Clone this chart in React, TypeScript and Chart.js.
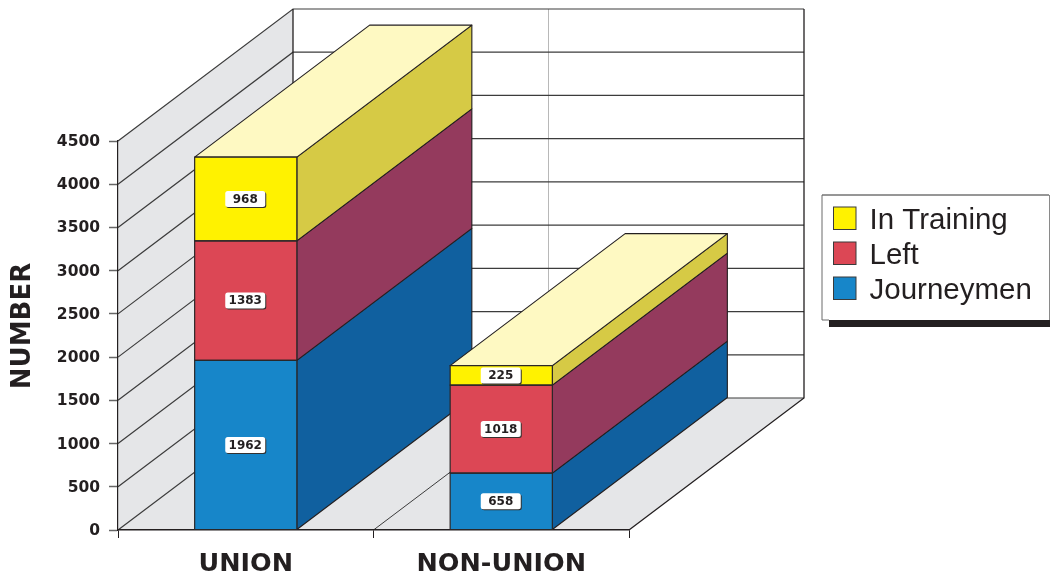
import React, { useEffect, useRef } from "react";
import { Chart, registerables } from "chart.js";

Chart.register(...registerables);

const categories = ["UNION", "NON-UNION"];
const journeymen = [1962, 658];
const left = [1383, 1018];
const inTraining = [968, 225];
const seriesLabels = ["Journeymen", "Left", "In Training"];
const axisTitle = "NUMBER";

const FRONT = ["#1786c9", "#dc4755", "#fff200"];
const SIDE = ["#10609f", "#943a5d", "#d6ca45"];
const TOP = "#fef9c2";
const INK = "#231f20";
const WALL = "#e5e6e8";
const GRID = "#3c3c3c";
const DEPTH_X = 175;
const DEPTH_Y = -132;
const AXIS_FONT = "'DejaVu Sans'";

function poly(ctx: CanvasRenderingContext2D, pts: number[][], fill: string | null, stroke: string | null, lw = 1.1) {
  ctx.beginPath();
  pts.forEach(([x, y], i) => (i ? ctx.lineTo(x, y) : ctx.moveTo(x, y)));
  ctx.closePath();
  if (fill) {
    ctx.fillStyle = fill;
    ctx.fill();
  }
  if (stroke) {
    ctx.strokeStyle = stroke;
    ctx.lineWidth = lw;
    ctx.stroke();
  }
}

function seg(ctx: CanvasRenderingContext2D, pts: number[][], color: string, lw = 1) {
  ctx.beginPath();
  pts.forEach(([x, y], i) => (i ? ctx.lineTo(x, y) : ctx.moveTo(x, y)));
  ctx.strokeStyle = color;
  ctx.lineWidth = lw;
  ctx.stroke();
}

// Left wall, back wall and floor of the 3D box, placed from the axis scales.
const roomPlugin = {
  id: "room",
  beforeDraw(chart: any) {
    const { ctx, scales } = chart;
    const y = scales.y;
    const x = scales.x;
    const l = x.left;
    const r = x.right;
    const b = y.getPixelForValue(0);
    const t = y.getPixelForValue(4500);
    ctx.save();
    poly(ctx, [[l, b], [l, t], [l + DEPTH_X, t + DEPTH_Y], [l + DEPTH_X, b + DEPTH_Y]], WALL, null);
    poly(ctx, [[l, b], [l + DEPTH_X, b + DEPTH_Y], [r + DEPTH_X, b + DEPTH_Y], [r, b]], WALL, null);

    // category divider running over the floor and up the back wall
    const mid = (l + r) / 2;
    seg(ctx, [[mid + DEPTH_X, b + DEPTH_Y], [mid + DEPTH_X, t + DEPTH_Y]], "#b8b8b8");
    seg(ctx, [[mid, b], [mid + DEPTH_X, b + DEPTH_Y]], GRID);

    y.ticks.forEach((tick: any) => {
      const py = y.getPixelForValue(tick.value);
      seg(ctx, [[l, py], [l + DEPTH_X, py + DEPTH_Y], [r + DEPTH_X, py + DEPTH_Y]], GRID, 1.2);
    });
    seg(ctx, [[l + DEPTH_X, t + DEPTH_Y], [l + DEPTH_X, b + DEPTH_Y]], INK, 1.3);
    seg(ctx, [[r + DEPTH_X, t + DEPTH_Y], [r + DEPTH_X, b + DEPTH_Y], [r, b]], INK, 1.3);

    // rotated axis title, centred a little above the middle of the axis
    ctx.translate(23, 326);
    ctx.rotate(-Math.PI / 2);
    ctx.fillStyle = INK;
    ctx.font = `bold 26px ${AXIS_FONT}`;
    ctx.textAlign = "center";
    ctx.textBaseline = "middle";
    ctx.fillText(axisTitle, 0, 0);
    ctx.restore();
  },
  // Extruded side and top faces of each stack, nearest category painted last.
  beforeDatasetsDraw(chart: any) {
    const { ctx, data } = chart;
    ctx.save();
    ctx.lineJoin = "round";
    categories.forEach((_, c) => {
      data.datasets.forEach((_d: any, s: number) => {
        const el = chart.getDatasetMeta(s).data[c];
        const xr = el.x + el.width / 2;
        poly(
          ctx,
          [[xr, el.y], [xr, el.base], [xr + DEPTH_X, el.base + DEPTH_Y], [xr + DEPTH_X, el.y + DEPTH_Y]],
          SIDE[s],
          INK,
        );
      });
      const top = chart.getDatasetMeta(data.datasets.length - 1).data[c];
      const xl = top.x - top.width / 2;
      const xr = top.x + top.width / 2;
      poly(
        ctx,
        [[xl, top.y], [xr, top.y], [xr + DEPTH_X, top.y + DEPTH_Y], [xl + DEPTH_X, top.y + DEPTH_Y]],
        TOP,
        INK,
      );
    });
    ctx.restore();
  },
  // Front outlines, white value tags and the framed key on the right.
  afterDatasetsDraw(chart: any) {
    const { ctx, data } = chart;
    ctx.save();
    data.datasets.forEach((ds: any, s: number) => {
      chart.getDatasetMeta(s).data.forEach((el: any) => {
        const xl = el.x - el.width / 2;
        poly(ctx, [[xl, el.y], [xl + el.width, el.y], [xl + el.width, el.base], [xl, el.base]], null, "#2a2728", 1.2);
      });
    });
    data.datasets.forEach((ds: any, s: number) => {
      chart.getDatasetMeta(s).data.forEach((el: any, c: number) => {
        const cx = el.x - 0.5;
        const cy = (el.y + el.base) / 2;
        const w = 40;
        const h = 16;
        ctx.beginPath();
        ctx.roundRect(cx - w / 2 + 1, cy - h / 2 + 1, w, h, 2.5);
        ctx.fillStyle = "#33302f";
        ctx.fill();
        ctx.beginPath();
        ctx.roundRect(cx - w / 2, cy - h / 2, w, h, 2.5);
        ctx.fillStyle = "#ffffff";
        ctx.fill();
        ctx.fillStyle = INK;
        ctx.font = `bold 12px ${AXIS_FONT}`;
        ctx.textAlign = "center";
        ctx.textBaseline = "middle";
        ctx.fillText(String(ds.data[c]), cx, cy + 0.5);
      });
    });

    const bx = 822;
    const by = 195;
    const bw = 227;
    const bh = 125;
    ctx.fillStyle = INK;
    ctx.fillRect(829, by + bh, 221, 7);
    ctx.fillStyle = "#ffffff";
    ctx.fillRect(bx, by, bw, bh);
    seg(ctx, [[bx, by], [bx + bw, by]], "#2e2e2e", 1);
    seg(ctx, [[bx, by], [bx, by + bh], [bx + 7, by + bh]], "#6a6a6a", 1);
    seg(ctx, [[bx + bw + 0.5, by], [bx + bw + 0.5, by + bh]], "#8a8a8a", 1);

    const rows = [2, 1, 0];
    rows.forEach((s, i) => {
      const top = 207 + i * 35;
      ctx.fillStyle = FRONT[s];
      ctx.fillRect(833.5, top, 22.5, 22.5);
      ctx.strokeStyle = "#3a3a3a";
      ctx.lineWidth = 1;
      ctx.strokeRect(833.5, top, 22.5, 22.5);
      ctx.fillStyle = INK;
      ctx.font = "29.5px 'Liberation Sans'";
      ctx.textAlign = "left";
      ctx.textBaseline = "alphabetic";
      ctx.fillText(data.datasets[s].label, 869.5, top + 22);
    });
    ctx.restore();
  },
};

export default function App() {
  const ref = useRef<HTMLCanvasElement>(null);
  useEffect(() => {
    const chart = new Chart(ref.current as HTMLCanvasElement, {
      type: "bar",
      data: {
        labels: categories,
        datasets: [journeymen, left, inTraining].map((values, s) => ({
          label: seriesLabels[s],
          data: values,
          backgroundColor: FRONT[s],
          borderWidth: 0,
          inflateAmount: 0,
          barPercentage: 0.4,
          categoryPercentage: 1,
        })),
      },
      plugins: [roomPlugin],
      options: {
        animation: false,
        responsive: false,
        events: [],
        layout: { padding: { left: 0, top: 141, right: 421, bottom: 0 } },
        plugins: { legend: { display: false }, tooltip: { enabled: false } },
        scales: {
          x: {
            stacked: true,
            afterFit: (s: any) => {
              s.height = 45;
            },
            border: { color: INK, width: 1.5 },
            grid: { drawOnChartArea: false, drawTicks: true, tickLength: 8, tickColor: INK },
            ticks: {
              color: INK,
              padding: 11,
              maxRotation: 0,
              font: { family: AXIS_FONT, size: 25.5, weight: "bold" },
            },
          },
          y: {
            stacked: true,
            min: 0,
            max: 4500,
            afterFit: (s: any) => {
              s.width = 118;
            },
            border: { color: INK, width: 1.2 },
            grid: { drawOnChartArea: false, drawTicks: true, tickLength: 9, tickColor: "#666666", tickWidth: 1.5 },
            ticks: {
              stepSize: 500,
              color: INK,
              padding: 9,
              labelOffset: 1,
              callback: (v: any) => String(v),
              font: { family: AXIS_FONT, size: 15.5, weight: "bold" },
            },
          },
        },
      },
    } as any);
    return () => chart.destroy();
  }, []);
  return (
    <div style={{ position: "absolute", left: 0, top: 0, width: 1050, height: 575, overflow: "hidden" }}>
      <canvas ref={ref} width={1050} height={575} style={{ display: "block" }} />
    </div>
  );
}
